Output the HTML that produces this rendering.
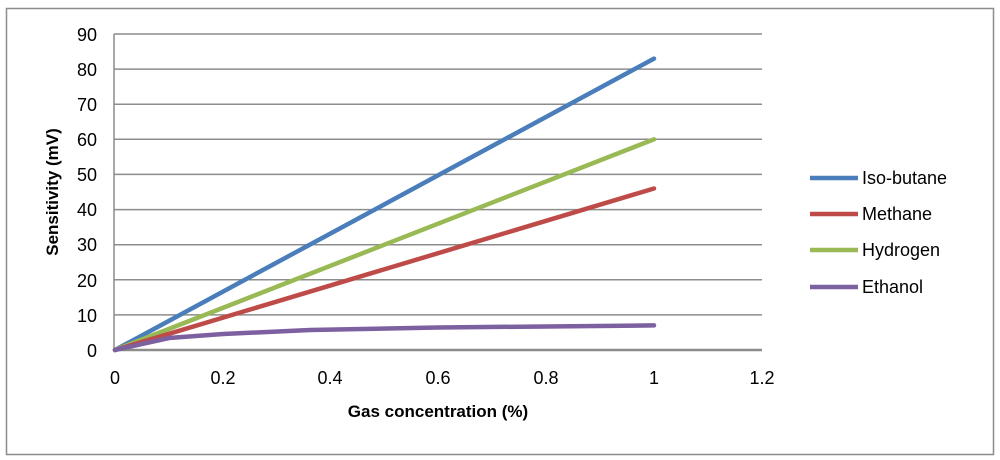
<!DOCTYPE html>
<html><head><style>body{margin:0;background:#fff}svg{display:block;font-family:"Liberation Sans",sans-serif}</style></head><body>
<svg width="1000" height="460" viewBox="0 0 1000 460">
<rect x="6.5" y="8.5" width="987" height="446" fill="#fff" stroke="#8c8c8c" stroke-width="1.5"/>
<g stroke="#8c8c8c" stroke-width="1.5">
<line x1="114" y1="34" x2="762" y2="34"/><line x1="114" y1="69.1" x2="762" y2="69.1"/><line x1="114" y1="104.2" x2="762" y2="104.2"/><line x1="114" y1="139.3" x2="762" y2="139.3"/><line x1="114" y1="174.4" x2="762" y2="174.4"/><line x1="114" y1="209.6" x2="762" y2="209.6"/><line x1="114" y1="244.7" x2="762" y2="244.7"/><line x1="114" y1="279.8" x2="762" y2="279.8"/><line x1="114" y1="314.9" x2="762" y2="314.9"/>
<line x1="114" y1="34" x2="114" y2="350"/></g>
<line x1="114" y1="350" x2="762" y2="350" stroke="#8c8c8c" stroke-width="2.5"/>
<g font-size="18" text-anchor="end" fill="#000">
<text x="97" y="41">90</text><text x="97" y="76">80</text><text x="97" y="111">70</text><text x="97" y="146">60</text><text x="97" y="181">50</text><text x="97" y="216">40</text><text x="97" y="251">30</text><text x="97" y="287">20</text><text x="97" y="322">10</text><text x="97" y="357">0</text></g>
<g font-size="18" text-anchor="middle">
<text x="115" y="384">0</text><text x="223" y="384">0.2</text><text x="330" y="384">0.4</text><text x="438" y="384">0.6</text><text x="546" y="384">0.8</text><text x="654" y="384">1</text><text x="762" y="384">1.2</text></g>
<text x="438" y="417" font-size="17" font-weight="bold" text-anchor="middle">Gas concentration (%)</text>
<text transform="translate(58,192) rotate(-90)" font-size="17" font-weight="bold" text-anchor="middle">Sensitivity (mV)</text>
<g fill="none" stroke-width="4.5" stroke-linecap="round">
<line x1="115" y1="350" x2="654" y2="58.6" stroke="#4a7ebb"/>
<line x1="115" y1="350" x2="654" y2="139.3" stroke="#98b954"/>
<line x1="115" y1="350" x2="654" y2="188.5" stroke="#be4b48"/>
<polyline points="115,350 169,338 223,334 310,330 438,327.5 654,325.4" stroke="#7d60a0"/>
</g>
<g stroke-width="4.5">
<line x1="810" y1="178" x2="858" y2="178" stroke="#4a7ebb"/>
<line x1="810" y1="214" x2="858" y2="214" stroke="#be4b48"/>
<line x1="810" y1="250" x2="858" y2="250" stroke="#98b954"/>
<line x1="810" y1="287" x2="858" y2="287" stroke="#7d60a0"/></g>
<g font-size="18"><text x="862" y="184">Iso-butane</text><text x="862" y="220">Methane</text><text x="862" y="256">Hydrogen</text><text x="862" y="293">Ethanol</text></g>
</svg></body></html>
